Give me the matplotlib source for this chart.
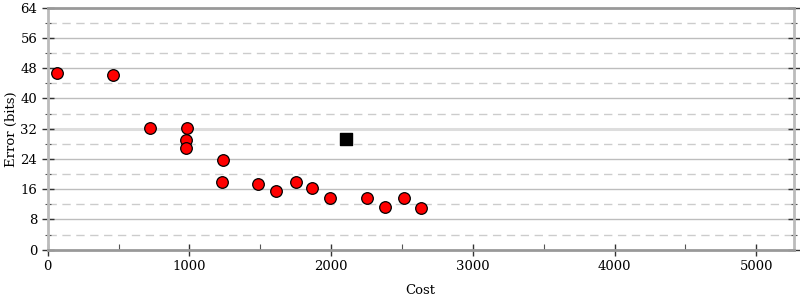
import matplotlib
matplotlib.use("Agg")
import matplotlib.pyplot as plt
from matplotlib.ticker import MultipleLocator

# circles
cost = [68, 460, 725, 981, 976, 976, 1237, 1227, 1486, 1610, 1749, 1868,
        1993, 2256, 2377, 2511, 2634]
error = [46.8, 46.2, 32.3, 32.3, 28.9, 26.9, 23.7, 17.9, 17.4, 15.4, 18.0,
         16.3, 13.8, 13.8, 11.2, 13.7, 11.0]

# square
sq_cost = [2108]
sq_error = [29.3]

plt.rcParams['font.family'] = ['DejaVu Serif']

fig = plt.figure(figsize=(8, 3), dpi=100)
ax = fig.add_axes([0.0596, 0.1677, 0.9325, 0.8066])

ax.set_xlim(0, 5264)
ax.set_ylim(0, 64)

# grid: solid at multiples of 8, dashed in between, 32 lighter
for y in range(8, 64, 8):
    if y == 32:
        ax.axhline(y, color='#dddddd', lw=2.2, zorder=1)
    else:
        ax.axhline(y, color='#bdbdbd', lw=1.0, zorder=1)
for y in range(4, 64, 8):
    ax.axhline(y, color='#cccccc', lw=1.0, ls=(0, (6, 4)), zorder=1)

ax.scatter(cost, error, s=70, c='#ff0000', edgecolors='black',
           linewidths=0.9, zorder=3)
ax.scatter(sq_cost, sq_error, s=75, marker='s', c='black', zorder=3)

ax.xaxis.set_major_locator(MultipleLocator(1000))
ax.xaxis.set_minor_locator(MultipleLocator(500))
ax.yaxis.set_major_locator(MultipleLocator(8))
ax.yaxis.set_minor_locator(MultipleLocator(4))

ax.tick_params(which='major', direction='inout', length=8, width=1,
               color='#333333', labelsize=9.5, right=True)
ax.tick_params(which='minor', direction='inout', length=5, width=0.8,
               color='#555555', right=True)
ax.tick_params(axis='x', which='minor', direction='in', length=4)

for side in ['top', 'bottom']:
    ax.spines[side].set_color('#999999')
    ax.spines[side].set_linewidth(2)
for side in ['left', 'right']:
    ax.spines[side].set_color('#bbbbbb')
    ax.spines[side].set_linewidth(2)

ax.set_xlabel('Cost', fontsize=9.5, labelpad=8)
ax.set_ylabel('Error (bits)', fontsize=9.5, labelpad=2)

fig.savefig('out.png', dpi=100)
